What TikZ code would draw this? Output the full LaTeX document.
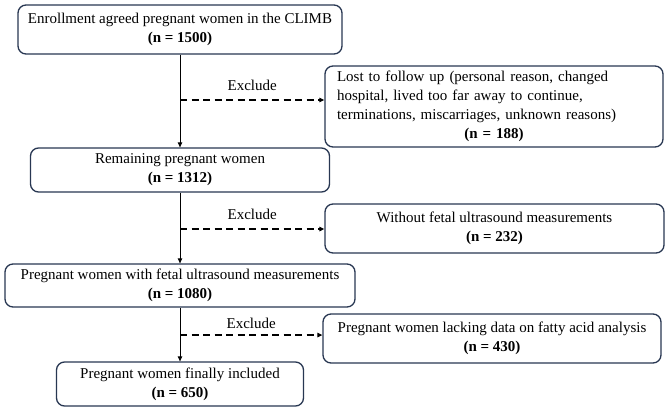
\documentclass[tikz,border=0pt]{standalone}
\usepackage{fontspec}
\setmainfont{Liberation Serif}
\usetikzlibrary{arrows.meta}

\definecolor{boxline}{RGB}{40,55,82}

\tikzset{
  flowbox/.style={draw=boxline, line width=1.3pt, rounded corners=8pt, fill=white,
    align=center, inner sep=2pt, font=\fontsize{15}{19}\selectfont},
  mainarrow/.style={line width=0.9pt, -{Triangle[length=5pt,width=4.5pt]}},
  exclarrow/.style={line width=1.2pt, dash pattern=on 7pt off 4.5pt,
    -{Triangle[length=5pt,width=4.5pt]}},
  excltext/.style={font=\fontsize{15}{19}\selectfont, inner sep=2pt}
}

\begin{document}
\begin{tikzpicture}[x=1pt,y=-1pt]
  \useasboundingbox (0,0) rectangle (669,408);

  % main column
  \node[flowbox, minimum width=324pt, minimum height=49pt] (enrol) at (180,29.5)
    {Enrollment agreed pregnant women in the CLIMB\\\textbf{(n = 1500)}};
  \node[flowbox, minimum width=299pt, minimum height=44pt] (remain) at (180,170)
    {Remaining pregnant women\\\textbf{(n = 1312)}};
  \node[flowbox, minimum width=350pt, minimum height=43pt] (fetal) at (180,285.5)
    {Pregnant women with fetal ultrasound measurements\\\textbf{(n = 1080)}};
  \node[flowbox, minimum width=247pt, minimum height=44pt] (final) at (180,384)
    {Pregnant women finally included\\\textbf{(n = 650)}};

  % excluded
  \node[flowbox, minimum width=338pt, minimum height=81pt, text width=314pt,
    align=left, inner xsep=12pt] (lost) at (494,106.5)
    {Lost to follow up (personal reason, changed\\
     hospital, lived too far away to continue,\\
     terminations, miscarriages, unknown reasons)\\
     \makebox[\linewidth]{\textbf{(n = 188)}}};
  \node[flowbox, minimum width=339pt, minimum height=49pt] (nofetal) at (494.5,228.5)
    {Without fetal ultrasound measurements\\\textbf{(n = 232)}};
  \node[flowbox, minimum width=338pt, minimum height=49pt] (nofatty) at (492,338.5)
    {Pregnant women lacking data on fatty acid analysis\\\textbf{(n = 430)}};

  \draw[mainarrow] (enrol) -- (remain);
  \draw[mainarrow] (remain) -- (fetal);
  \draw[mainarrow] (fetal) -- (final);

  \coordinate (ex1) at (180,100);
  \coordinate (ex2) at (180,229);
  \coordinate (ex3) at (180,335);
  \draw[exclarrow] (ex1) -- (ex1 -| lost.west)
    node[excltext, midway, above=7pt] (lab1) {Exclude};
  \draw[exclarrow] (ex2) -- (ex2 -| nofetal.west)
    node[excltext, midway, above=7pt] (lab2) {Exclude};
  \draw[exclarrow] (ex3) -- (ex3 -| nofatty.west)
    node[excltext, midway, above=4pt] (lab3) {Exclude};
\end{tikzpicture}
\end{document}
